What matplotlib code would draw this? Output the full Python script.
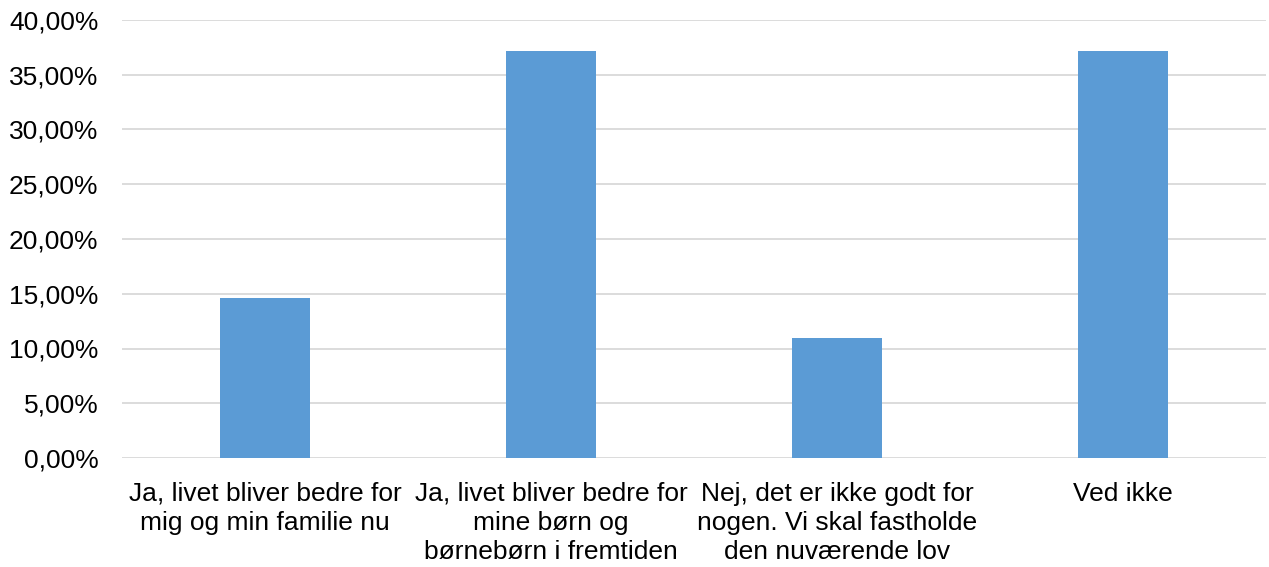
import matplotlib
matplotlib.use("Agg")
import matplotlib.pyplot as plt
from matplotlib.ticker import FuncFormatter, MultipleLocator

categories = [
    "Ja, livet bliver bedre for\nmig og min familie nu",
    "Ja, livet bliver bedre for\nmine børn og\nbørnebørn i fremtiden",
    "Nej, det er ikke godt for\nnogen. Vi skal fastholde\nden nuværende lov",
    "Ved ikke",
]
values = [14.63, 37.17, 10.98, 37.20]

plt.rcParams['font.family'] = ['Liberation Sans', 'DejaVu Sans']

fig = plt.figure(figsize=(12.69, 5.67), dpi=100)
ax = fig.add_axes([122/1269, 1 - 458/567, (1266-122)/1269, (458-20)/567])

x = list(range(len(categories)))
ax.bar(x, values, width=0.315, color="#5b9bd5", zorder=3)
ax.set_xlim(-0.5, len(categories) - 0.5)
ax.set_ylim(0, 40)
ax.yaxis.set_major_locator(MultipleLocator(5))
ax.yaxis.set_major_formatter(FuncFormatter(lambda v, p: f"{v:.2f}%".replace(".", ",")))
ax.set_xticks(x)
ax.set_xticklabels(categories, fontsize=19, linespacing=1.28, color="black")
ax.tick_params(axis="y", labelsize=19, length=0, pad=17, labelcolor="black")
ax.tick_params(axis="x", length=0, pad=17)
ax.grid(axis="y", color="#d9d9d9", linewidth=1.3, zorder=0)
for s in ax.spines.values():
    s.set_visible(False)

fig.savefig("out.png", dpi=100)
